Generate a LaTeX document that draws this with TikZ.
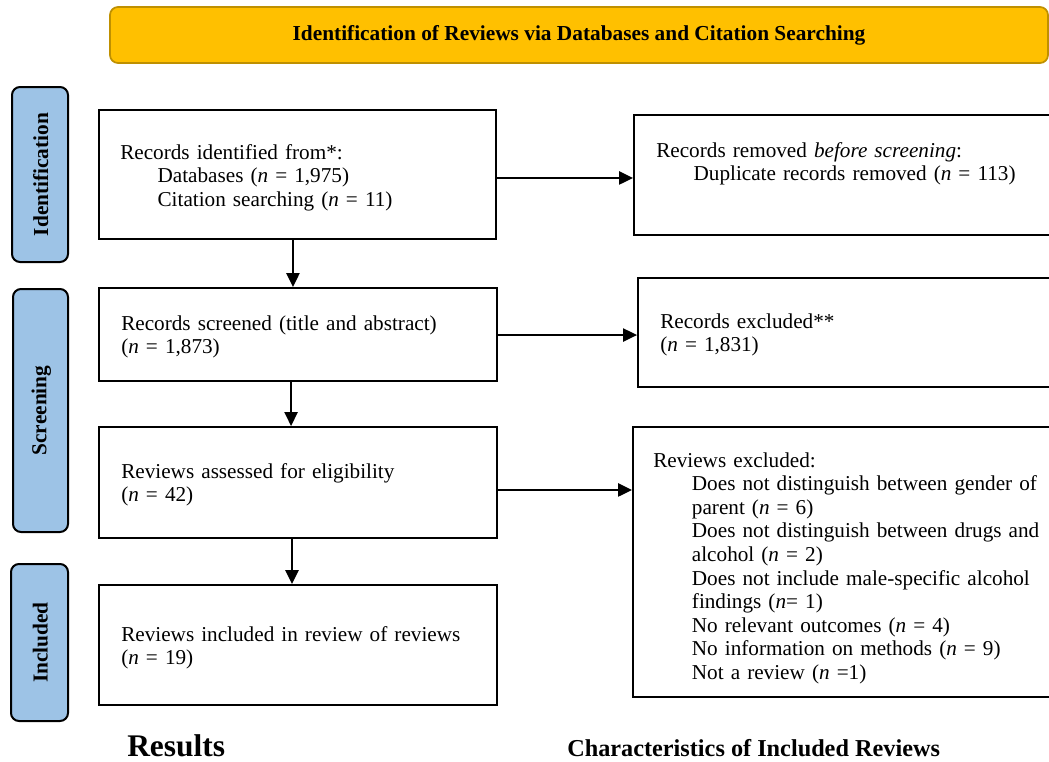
\documentclass[tikz,border=0pt]{standalone}
\usepackage{fontspec}
\setmainfont{Liberation Serif}
\usetikzlibrary{fit,arrows.meta,calc}
\definecolor{bannerfill}{HTML}{FFC000}
\definecolor{bannerdraw}{HTML}{BF9000}
\definecolor{phasefill}{HTML}{9DC3E6}
\begin{document}
\begin{tikzpicture}[x=0.75pt,y=-0.75pt,
  box/.style={draw=black, line width=1.5pt, inner sep=0pt, fill=white},
  phase/.style={draw=black, line width=1.5pt, fill=phasefill, rounded corners=6pt, inner sep=0pt},
  banner/.style={draw=bannerdraw, line width=1.3pt, fill=bannerfill, rounded corners=6pt, inner sep=0pt},
  body/.style={font=\fontsize{15.9pt}{17.7pt}\selectfont, inner sep=0pt, align=left, text width=380pt, anchor=base west},
  phasetxt/.style={font=\fontsize{16pt}{18pt}\selectfont\bfseries, rotate=90, inner sep=0pt},
  arr/.style={-{Triangle[length=10.5pt,width=10pt]}, line width=1.2pt}
]
\useasboundingbox (0,0) rectangle (1049,761);
\clip (0,0) rectangle (1049,761);

% banner
\node[banner, fit={(110,7) (1048,63)}] (ban) {};
\node[font=\fontsize{16pt}{18pt}\selectfont\bfseries, inner sep=0pt] (bant) at (ban.center) {Identification of Reviews via Databases and Citation Searching};

% phase labels
\node[phase, fit={(12,87) (68,262)}] (pI) {};
\node[phasetxt] (pIt) at ([xshift=0.6pt]pI.center) {Identification};
\node[phase, fit={(13,289) (68,532)}] (pS) {};
\node[phasetxt] (pSt) at ([xshift=0.6pt]pS.center) {Screening};
\node[phase, fit={(11,564) (68,721)}] (pN) {};
\node[phasetxt] (pNt) at ([xshift=0.6pt]pN.center) {Included};

% boxes
\node[box, fit={(99,110) (496,239)}] (b1) {};
\node[box, fit={(634,115) (1065,235)}] (rem) {};
\node[box, fit={(99,288) (497,381)}] (scr) {};
\node[box, fit={(638,278) (1065,387)}] (exc) {};
\node[box, fit={(99,427) (497,538)}] (ass) {};
\node[box, fit={(633,427) (1065,697)}] (rexc) {};
\node[box, fit={(99,585) (497,705)}] (inc) {};

% texts
\node[body] (t1) at (120,159) {Records identified from*:\\\hspace*{28pt}Databases (\textit{n} = 1,975)\\\hspace*{28pt}Citation searching (\textit{n} = 11)};
\node[body] (t2) at (656,157) {Records removed \textit{before screening}:\\\hspace*{28pt}Duplicate records removed (\textit{n} = 113)};
\node[body] (t3) at (121,330) {Records screened (title and abstract)\\(\textit{n} = 1,873)};
\node[body] (t4) at (660,328) {Records excluded**\\(\textit{n} = 1,831)};
\node[body] (t5) at (121,478) {Reviews assessed for eligibility\\(\textit{n} = 42)};
\node[body] (t6) at (653,467) {Reviews excluded:\\
\hspace*{29pt}Does not distinguish between gender of\\
\hspace*{29pt}parent (\textit{n} = 6)\\
\hspace*{29pt}Does not distinguish between drugs and\\
\hspace*{29pt}alcohol (\textit{n} = 2)\\
\hspace*{29pt}Does not include male-specific alcohol\\
\hspace*{29pt}findings (\textit{n}= 1)\\
\hspace*{29pt}No relevant outcomes (\textit{n} = 4)\\
\hspace*{29pt}No information on methods (\textit{n} = 9)\\
\hspace*{29pt}Not a review (\textit{n} =1)};
\node[body] (t7) at (121,641) {Reviews included in review of reviews\\(\textit{n} = 19)};

% connectors
\draw[arr] ([xshift=-3.4pt]b1.south) -- ([xshift=-3.4pt]b1.south |- scr.north);
\draw[arr] ([xshift=-5.2pt]scr.south) -- ([xshift=-5.2pt]scr.south |- ass.north);
\draw[arr] ([xshift=-4.5pt]ass.south) -- ([xshift=-4.5pt]ass.south |- inc.north);
\draw[arr] ([yshift=-2.6pt]b1.east) -- ([yshift=-2.6pt]b1.east -| rem.west);
\draw[arr] ([yshift=-0.4pt]scr.east) -- ([yshift=-0.4pt]scr.east -| exc.west);
\draw[arr] ([yshift=-5.6pt]ass.east) -- ([yshift=-5.6pt]ass.east -| rexc.west);

% bottom headings
\node[anchor=base west, inner sep=0pt, font=\fontsize{23.6pt}{26pt}\selectfont\bfseries] (res) at (127,756) {Results};
\node[anchor=base west, inner sep=0pt, font=\fontsize{18.2pt}{21pt}\selectfont\bfseries] (chr) at (567,756) {Characteristics of Included Reviews};
\end{tikzpicture}
\end{document}
